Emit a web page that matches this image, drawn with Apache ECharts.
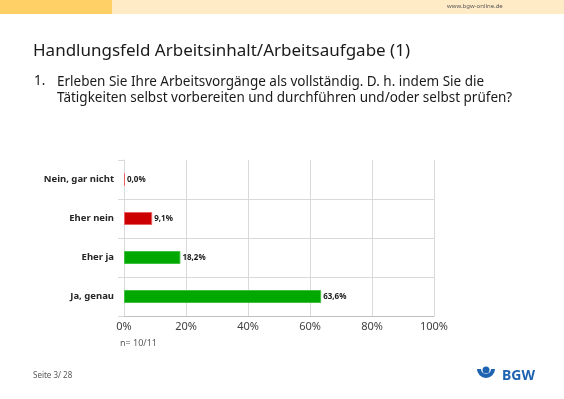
<!DOCTYPE html>
<html>
<head>
<meta charset="utf-8">
<script src="https://cdn.jsdelivr.net/npm/echarts@6/dist/echarts.min.js"></script>
<style>
  html, body { margin: 0; padding: 0; background: #fff; }
  #chart { width: 564px; height: 399px; }
</style>
</head>
<body>
<div id="chart"></div>
<script>
const categories = ["Nein, gar nicht", "Eher nein", "Eher ja", "Ja, genau"];
const values = [0.0, 9.1, 18.2, 63.6];
const barColors = ["#CC0000", "#CC0000", "#00A800", "#00A800"];
const borderColors = ["#E86060", "#E86060", "#40C040", "#40C040"];

const font = "'Noto Sans', sans-serif";
const chart = echarts.init(document.getElementById("chart"));

chart.setOption({
  animation: false,
  grid: { left: 124, right: 130, top: 160, bottom: 83 },
  xAxis: {
    type: "value",
    min: 0,
    max: 100,
    interval: 20,
    axisLine: { show: true, lineStyle: { color: "#BFBFBF" } },
    axisTick: { show: false },
    axisLabel: {
      formatter: "{value}%",
      color: "#404040",
      fontFamily: font,
      fontSize: 11,
      margin: 5,
    },
    splitLine: { show: true, lineStyle: { color: "#D9D9D9" } },
  },
  yAxis: {
    type: "category",
    inverse: true,
    data: categories,
    axisLine: { show: true, lineStyle: { color: "#D9D9D9" } },
    axisTick: { show: true, length: 6, lineStyle: { color: "#D9D9D9" } },
    axisLabel: {
      color: "#262626",
      fontFamily: font,
      fontSize: 9.5,
      fontWeight: "bold",
      margin: 10,
    },
    splitLine: {
      show: true,
      interval: (i) => i !== 0,
      lineStyle: { color: "#D9D9D9" },
    },
  },
  series: [
    {
      type: "bar",
      barWidth: 13,
      barMinHeight: 1,
      data: values.map((v, i) => ({
        value: v,
        itemStyle: { color: barColors[i], borderColor: borderColors[i], borderWidth: 1 },
      })),
      label: {
        show: true,
        position: "right",
        distance: 2,
        color: "#1A1A1A",
        fontFamily: font,
        fontSize: 8,
        fontWeight: "bold",
        formatter: (p) => p.value.toFixed(1).replace(".", ",") + "%",
      },
    },
  ],
  graphic: [
    { type: "rect", shape: { x: 0, y: 0, width: 112, height: 14 }, style: { fill: "#FFD066" } },
    { type: "rect", shape: { x: 112, y: 0, width: 452, height: 14 }, style: { fill: "#FFEBC6" } },
    {
      type: "text", x: 447, y: 3,
      style: { text: "www.bgw-online.de", fill: "#555", font: "6px " + font },
    },
    {
      type: "text", x: 33, y: 43,
      style: { text: "Handlungsfeld Arbeitsinhalt/Arbeitsaufgabe (1)", fill: "#1A1A1A", font: "17px " + font },
    },
    {
      type: "text", x: 34, y: 74,
      style: { text: "1.", fill: "#1A1A1A", font: "13.5px " + font },
    },
    {
      type: "text", x: 57, y: 74,
      style: {
        text: "Erleben Sie Ihre Arbeitsvorgänge als vollständig. D. h. indem Sie die\nTätigkeiten selbst vorbereiten und durchführen und/oder selbst prüfen?",
        fill: "#1A1A1A", font: "13.5px " + font, lineHeight: 16,
      },
    },
    {
      type: "text", x: 120, y: 339,
      style: { text: "n= 10/11", fill: "#595959", font: "9px " + font },
    },
    {
      type: "text", x: 33, y: 372,
      style: { text: "Seite 3/ 28", fill: "#595959", font: "8px " + font },
    },
    {
      type: "sector",
      shape: { cx: 486, cy: 369, r: 9, r0: 5, startAngle: 0, endAngle: Math.PI },
      style: { fill: "#1D63B0" },
    },
    {
      type: "circle", shape: { cx: 486, cy: 370, r: 3.5 }, style: { fill: "#1D63B0" },
    },
    {
      type: "text", x: 502, y: 369,
      style: { text: "BGW", fill: "#1D63B0", font: "bold 14px " + font },
    },
  ],
});
</script>
</body>
</html>
